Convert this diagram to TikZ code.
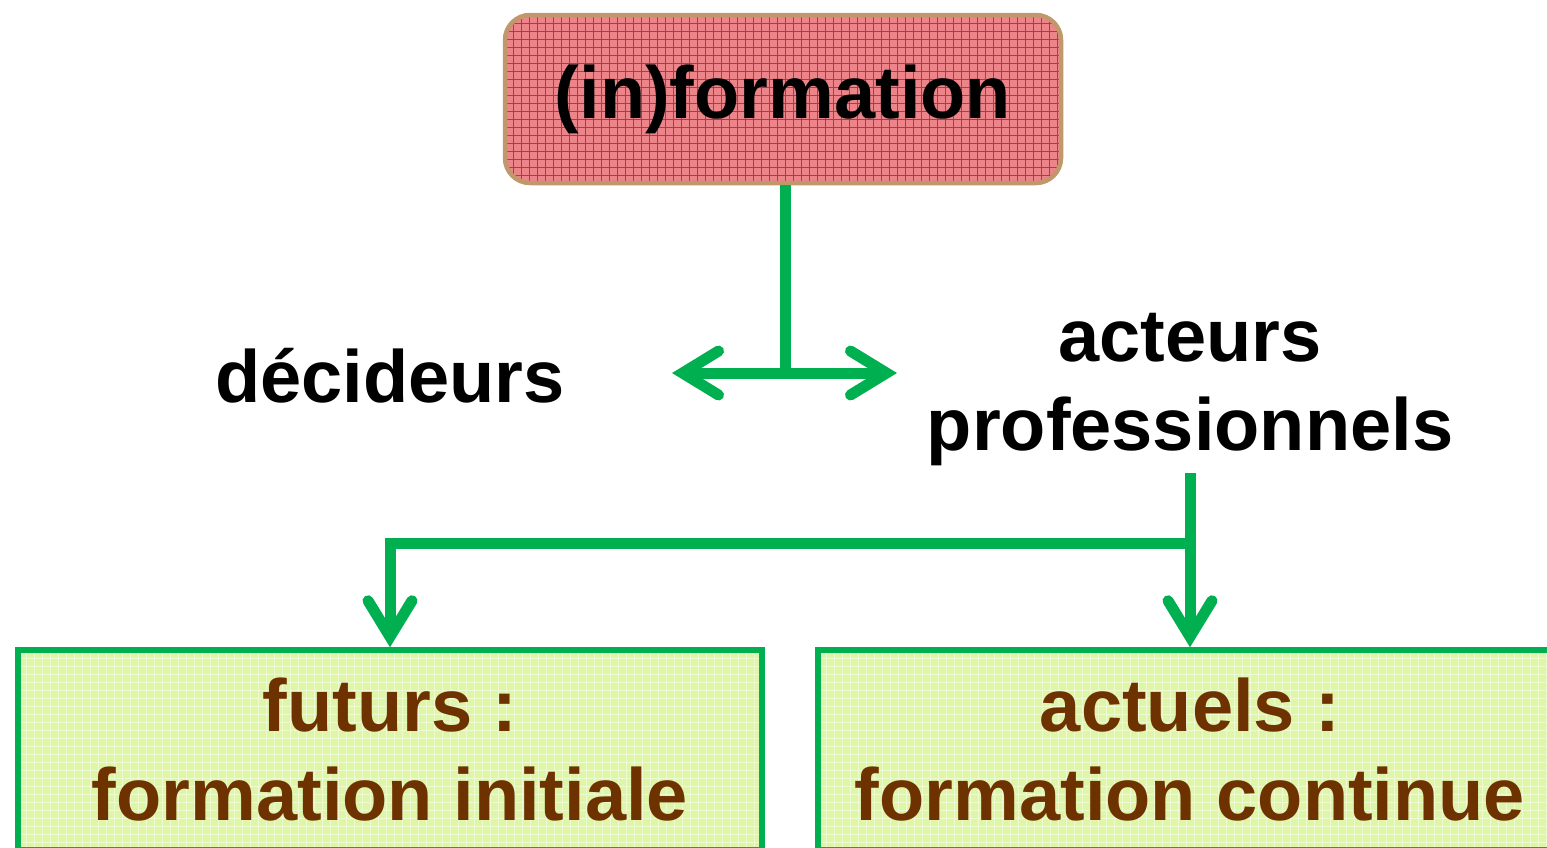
\documentclass[tikz,border=0pt]{standalone}
\usepackage{fontspec}
\setmainfont{Liberation Sans}
\usetikzlibrary{arrows.meta}
\definecolor{offgreen}{RGB}{0,176,80}
\definecolor{tanborder}{RGB}{192,152,108}
\definecolor{pinkbase}{RGB}{236,132,138}
\definecolor{pinkgrid}{RGB}{212,44,54}
\definecolor{limebase}{RGB}{222,246,166}
\definecolor{limegrid}{RGB}{238,251,210}
\definecolor{brownt}{RGB}{110,50,0}
\begin{document}
\begin{tikzpicture}[x=1pt,y=-1pt,
  bigfont/.style={font=\fontsize{74pt}{89pt}\selectfont\bfseries},
  conn/.style={draw=offgreen, line width=11pt},
  barb/.tip={Straight Barb[length=36pt,width=44pt,line cap=round,line join=miter]},
  gridfill/.style={path picture={
    \foreach \k in {0,8,...,800} {
      \draw[#1,line width=1pt] ([xshift=\k pt]path picture bounding box.north west) -- ([xshift=\k pt]path picture bounding box.south west);
      \draw[#1,line width=1pt] ([yshift=-\k pt]path picture bounding box.north west) -- ([yshift=-\k pt]path picture bounding box.north east);
    }}},
]
\useasboundingbox (0,0) rectangle (1547,847);
\clip (0,0) rectangle (1547,847);

% top box
\node[draw=tanborder, line width=4.5pt, fill=pinkbase, gridfill=pinkgrid,
      rounded corners=25pt, minimum width=556pt, minimum height=168pt,
      inner sep=0pt, bigfont] (info) at (783,99) {(in)formation};

% labels
\node[bigfont] (dec) at (390,376) {décideurs};
\node[bigfont, align=center, inner sep=6pt] (act) at (1190,390) {acteurs\\professionnels};

% bottom boxes
\node[draw=offgreen, line width=5.5pt, fill=limebase, gridfill=limegrid,
      minimum width=744pt, minimum height=200pt, inner sep=0pt,
      bigfont, text=brownt, align=center] (fut) at (390,750) {futurs :\\formation initiale};
\node[draw=offgreen, line width=5.5pt, fill=limebase, gridfill=limegrid,
      minimum width=744pt, minimum height=200pt, inner sep=0pt,
      bigfont, text=brownt, align=center] (cur) at (1190,750) {actuels :\\formation continue};

% connectors
\coordinate (hub) at (785,373);
\coordinate (dl) at (672,373);
\coordinate (dr) at (897,373);
\draw[conn] (info.south -| hub) -- (hub);
\draw[conn, barb-barb] (dl) -- (dr);

\coordinate (br) at (1190,543);
\draw[conn, -barb] (act.south) -- (cur.north);
\draw[conn, -barb] (br) -| (fut.north);
\end{tikzpicture}
\end{document}
